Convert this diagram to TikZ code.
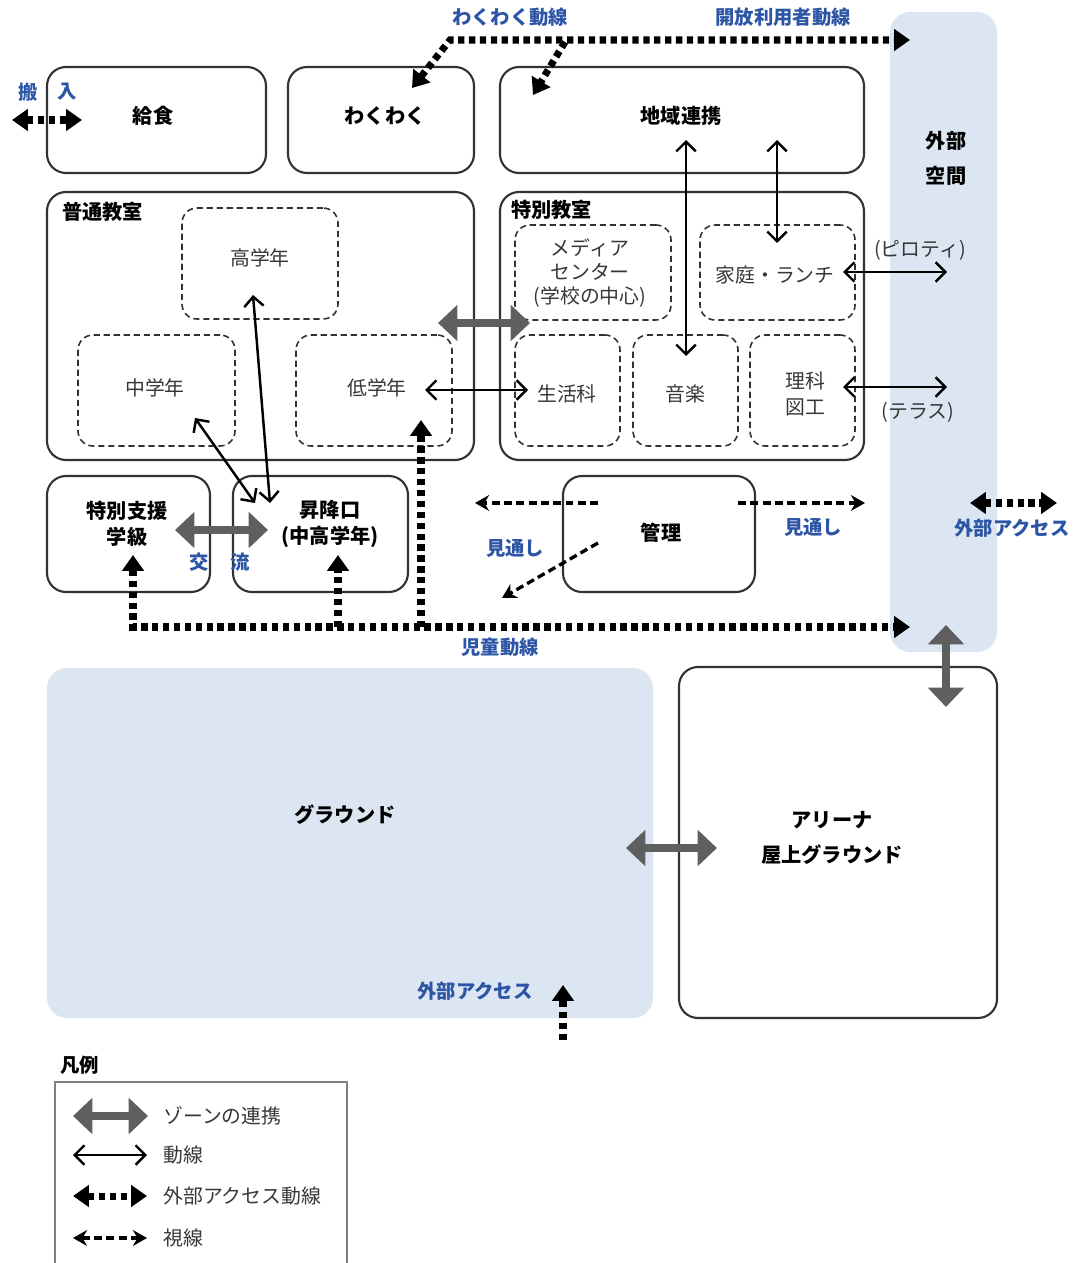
\documentclass[tikz,border=0pt]{standalone}
\usepackage{fontspec}
\setmainfont{Noto Sans CJK JP}
\usetikzlibrary{arrows.meta,fit}

\definecolor{zoneblue}{RGB}{220,230,242}
\definecolor{labelblue}{RGB}{45,85,165}
\definecolor{linkgray}{RGB}{95,95,95}
\definecolor{boxline}{RGB}{50,50,50}
\definecolor{roomtext}{RGB}{55,55,55}

\begin{document}
\begin{tikzpicture}[x=0.02cm, y=-0.02cm,
    font=\fontsize{11pt}{14pt}\selectfont,
    zonebox/.style={draw=boxline, line width=1.2pt, rounded corners=0.38cm, inner sep=0pt},
    zonename/.style={align=center, inner sep=0pt, font=\fontsize{11.5pt}{14.5pt}\selectfont\bfseries},
    subbox/.style={draw=boxline, line width=0.9pt, dash pattern=on 3.5pt off 2.2pt, rounded corners=0.3cm, inner sep=0pt},
    roomname/.style={text=roomtext, align=center, inner sep=0pt, font=\fontsize{11.3pt}{13.8pt}\selectfont},
    openarea/.style={fill=zoneblue, rounded corners=0.4cm, inner sep=0pt},
    bluetag/.style={text=labelblue, inner sep=0pt, font=\fontsize{11pt}{14pt}\selectfont\bfseries},
    zonelink/.style={draw=linkgray, line width=5pt, {Triangle[length=11pt,width=20pt]}-{Triangle[length=11pt,width=20pt]}},
    flow/.style={draw=black, line width=1.4pt, {Straight Barb[length=5.5pt,width=11pt]}-{Straight Barb[length=5.5pt,width=11pt]}},
    extflow/.style={draw=black, line width=4pt, dash pattern=on 3.6pt off 2.6pt, -{Triangle[length=9pt,width=12pt]}},
    extflow2/.style={extflow, {Triangle[length=9pt,width=12pt]}-{Triangle[length=9pt,width=12pt]}},
    sightline/.style={draw=black, line width=1.9pt, dash pattern=on 4.5pt off 2.5pt, -{Stealth[length=8pt,width=9pt]}},
    sightline2/.style={sightline, {Stealth[length=8pt,width=9pt]}-{Stealth[length=8pt,width=9pt]}},
]

    \useasboundingbox (0,0) rectangle (1079,1263);

    % Open areas
    \node[openarea, fit={(890,12) (997,652)}] (gaibu) {};
    \node[zonename, font=\fontsize{11.5pt}{20pt}\selectfont\bfseries] (gaibutxt) at (946,158) {外部\\空間};
    \node[openarea, fit={(47,668) (653,1018)}] (ground) {};
    \node[zonename] (groundtxt) at (345,815) {グラウンド};

    % Top row
    \node[zonebox, fit={(47,67) (266,173)}] (kyushoku) {};
    \node[zonename] (kyushokutxt) at (153,116) {給食};
    \node[zonebox, fit={(288,67) (474,173)}] (wakuwaku) {};
    \node[zonename] (wakuwakutxt) at (385,116) {わくわく};
    \node[zonebox, fit={(500,67) (864,173)}] (chiiki) {};
    \node[zonename] (chiikitxt) at (681,116) {地域連携};

    % Classrooms
    \node[zonebox, fit={(47,192) (474,460)}] (futsu) {};
    \node[zonename, anchor=north west] (futsutxt) at (62,202) {普通教室};
    \node[subbox, fit={(182,208) (338,319)}] (kou) {};
    \node[roomname] (koutxt) at (260,258) {高学年};
    \node[subbox, fit={(78,335) (235,446)}] (chu) {};
    \node[roomname] (chutxt) at (155,388) {中学年};
    \node[subbox, fit={(296,335) (452,446)}] (tei) {};
    \node[roomname] (teitxt) at (377,388) {低学年};

    % Special rooms
    \node[zonebox, fit={(500,192) (864,460)}] (tokubetsu) {};
    \node[zonename, anchor=north west] (tokubetsutxt) at (511,200) {特別教室};
    \node[subbox, fit={(515,225) (671,320)}] (media) {};
    \node[roomname] (mediatxt) at (590,273) {メディア\\センター\\(学校の中心)};
    \node[subbox, fit={(700,225) (855,320)}] (katei) {};
    \node[roomname] (kateitxt) at (775,275) {家庭・ランチ};
    \node[subbox, fit={(515,335) (620,446)}] (seikatsu) {};
    \node[roomname] (seikatsutxt) at (567,394) {生活科};
    \node[subbox, fit={(633,335) (738,446)}] (ongaku) {};
    \node[roomname] (ongakutxt) at (685,394) {音楽};
    \node[subbox, fit={(750,335) (855,446)}] (rika) {};
    \node[roomname, font=\fontsize{11.3pt}{15pt}\selectfont] (rikatxt) at (805,394) {理科\\図工};
    \node[roomname] (piloti) at (920,250) {(ピロティ)};
    \node[roomname] (terrace) at (918,412) {(テラス)};

    % Middle row
    \node[zonebox, fit={(47,476) (210,592)}] (shien) {};
    \node[zonename] (shientxt) at (127,524) {特別支援\\学級};
    \node[zonebox, fit={(233,476) (408,592)}] (shoko) {};
    \node[zonename] (shokotxt) at (330,524) {昇降口\\(中高学年)};
    \node[zonebox, fit={(563,476) (755,592)}] (kanri) {};
    \node[zonename] (kanritxt) at (661,533) {管理};
    \node[zonebox, fit={(679,667) (997,1018)}] (arena) {};
    \node[zonename, font=\fontsize{11.5pt}{20pt}\selectfont\bfseries] (arenatxt) at (832,838) {アリーナ\\屋上グラウンド};

    % Connector ends
    \coordinate (zlA) at (438,323);  \coordinate (zlB) at (530,323);
    \coordinate (zlC) at (175,530);  \coordinate (zlD) at (268,530);
    \coordinate (zlE) at (946,625);  \coordinate (zlF) at (946,707);
    \coordinate (zlG) at (626,848);  \coordinate (zlH) at (717,848);
    \coordinate (fkA) at (253,295);  \coordinate (fkB) at (270,503);
    \coordinate (fcA) at (195,418);  \coordinate (fcB) at (255,503);
    \coordinate (ftA) at (425,390);  \coordinate (ftB) at (528,390);
    \coordinate (foA) at (686,140);  \coordinate (foB) at (686,356);
    \coordinate (fhA) at (777,140);  \coordinate (fhB) at (777,243);
    \coordinate (fpA) at (843,272);  \coordinate (fpB) at (947,272);
    \coordinate (frA) at (843,387);  \coordinate (frB) at (947,387);

    % Zone links
    \draw[zonelink] (zlA) -- (zlB);
    \draw[zonelink] (zlC) -- (zlD);
    \draw[zonelink] (zlE) -- (zlF);
    \draw[zonelink] (zlG) -- (zlH);

    % Circulation
    \draw[flow] (fkA) -- (fkB);
    \draw[flow] (fcA) -- (fcB);
    \draw[flow] (ftA) -- (ftB);
    \draw[flow] (foA) -- (foB);
    \draw[flow] (fhA) -- (fhB);
    \draw[flow] (fpA) -- (fpB);
    \draw[flow] (frA) -- (frB);

    % External access
    \coordinate (inL) at (12,120);   \coordinate (inR) at (82,120);
    \coordinate (wkA) at (412,88);   \coordinate (wkB) at (450,40);  \coordinate (wkC) at (910,40);
    \coordinate (opA) at (565,42);   \coordinate (opB) at (533,95);
    \coordinate (jdA) at (133,555);  \coordinate (jdB) at (133,627); \coordinate (jdC) at (910,627);
    \coordinate (jdD) at (338,627);  \coordinate (jdE) at (338,555);
    \coordinate (jdF) at (421,627);  \coordinate (jdG) at (421,420);
    \coordinate (exA) at (970,503);  \coordinate (exB) at (1057,503);
    \coordinate (exC) at (563,1040); \coordinate (exD) at (563,985);
    \draw[extflow2] (inL) -- (inR);
    \draw[extflow2] (wkA) -- (wkB) -- (wkC);
    \draw[extflow] (opA) -- (opB);
    \draw[extflow2] (jdA) -- (jdB) -- (jdC);
    \draw[extflow] (jdD) -- (jdE);
    \draw[extflow] (jdF) -- (jdG);
    \draw[extflow2] (exA) -- (exB);
    \draw[extflow] (exC) -- (exD);

    % Sight lines
    \coordinate (slA) at (598,503);  \coordinate (slB) at (475,503);
    \coordinate (slC) at (738,503);  \coordinate (slD) at (865,503);
    \coordinate (slE) at (598,543);  \coordinate (slF) at (502,598);
    \draw[sightline] (slA) -- (slB);
    \draw[sightline] (slC) -- (slD);
    \draw[sightline] (slE) -- (slF);

    % Blue labels
    \node[bluetag] (lwk) at (510,17) {わくわく動線};
    \node[bluetag] (lop) at (783,17) {開放利用者動線};
    \node[bluetag] (lin1) at (28,92) {搬};
    \node[bluetag] (lin2) at (67,92) {入};
    \node[bluetag] (lko1) at (199,562) {交};
    \node[bluetag] (lko2) at (240,562) {流};
    \node[bluetag] (lmi1) at (515,548) {見通し};
    \node[bluetag] (lmi2) at (813,527) {見通し};
    \node[bluetag] (lex1) at (1012,528) {外部アクセス};
    \node[bluetag] (ljd) at (500,647) {児童動線};
    \node[bluetag] (lex2) at (475,991) {外部アクセス};

    % Legend
    \node[zonename, anchor=west, font=\fontsize{11pt}{14pt}\selectfont\bfseries] (hanrei) at (60,1065) {凡例};
    \draw[draw=gray, line width=0.8pt] (55,1275) -- (55,1082) -- (347,1082) -- (347,1275);
    \coordinate (lgA1) at (73,1116);  \coordinate (lgB1) at (148,1116);
    \coordinate (lgA2) at (73,1155);  \coordinate (lgB2) at (147,1155);
    \coordinate (lgA3) at (73,1196);  \coordinate (lgB3) at (147,1196);
    \coordinate (lgA4) at (73,1238);  \coordinate (lgB4) at (147,1238);
    \draw[zonelink] (lgA1) -- (lgB1);
    \draw[flow] (lgA2) -- (lgB2);
    \draw[extflow2] (lgA3) -- (lgB3);
    \draw[sightline2] (lgA4) -- (lgB4);
    \node[anchor=west, roomname] (lgt1) at (163,1116) {ゾーンの連携};
    \node[anchor=west, roomname] (lgt2) at (163,1155) {動線};
    \node[anchor=west, roomname] (lgt3) at (163,1196) {外部アクセス動線};
    \node[anchor=west, roomname] (lgt4) at (163,1238) {視線};

\end{tikzpicture}
\end{document}
